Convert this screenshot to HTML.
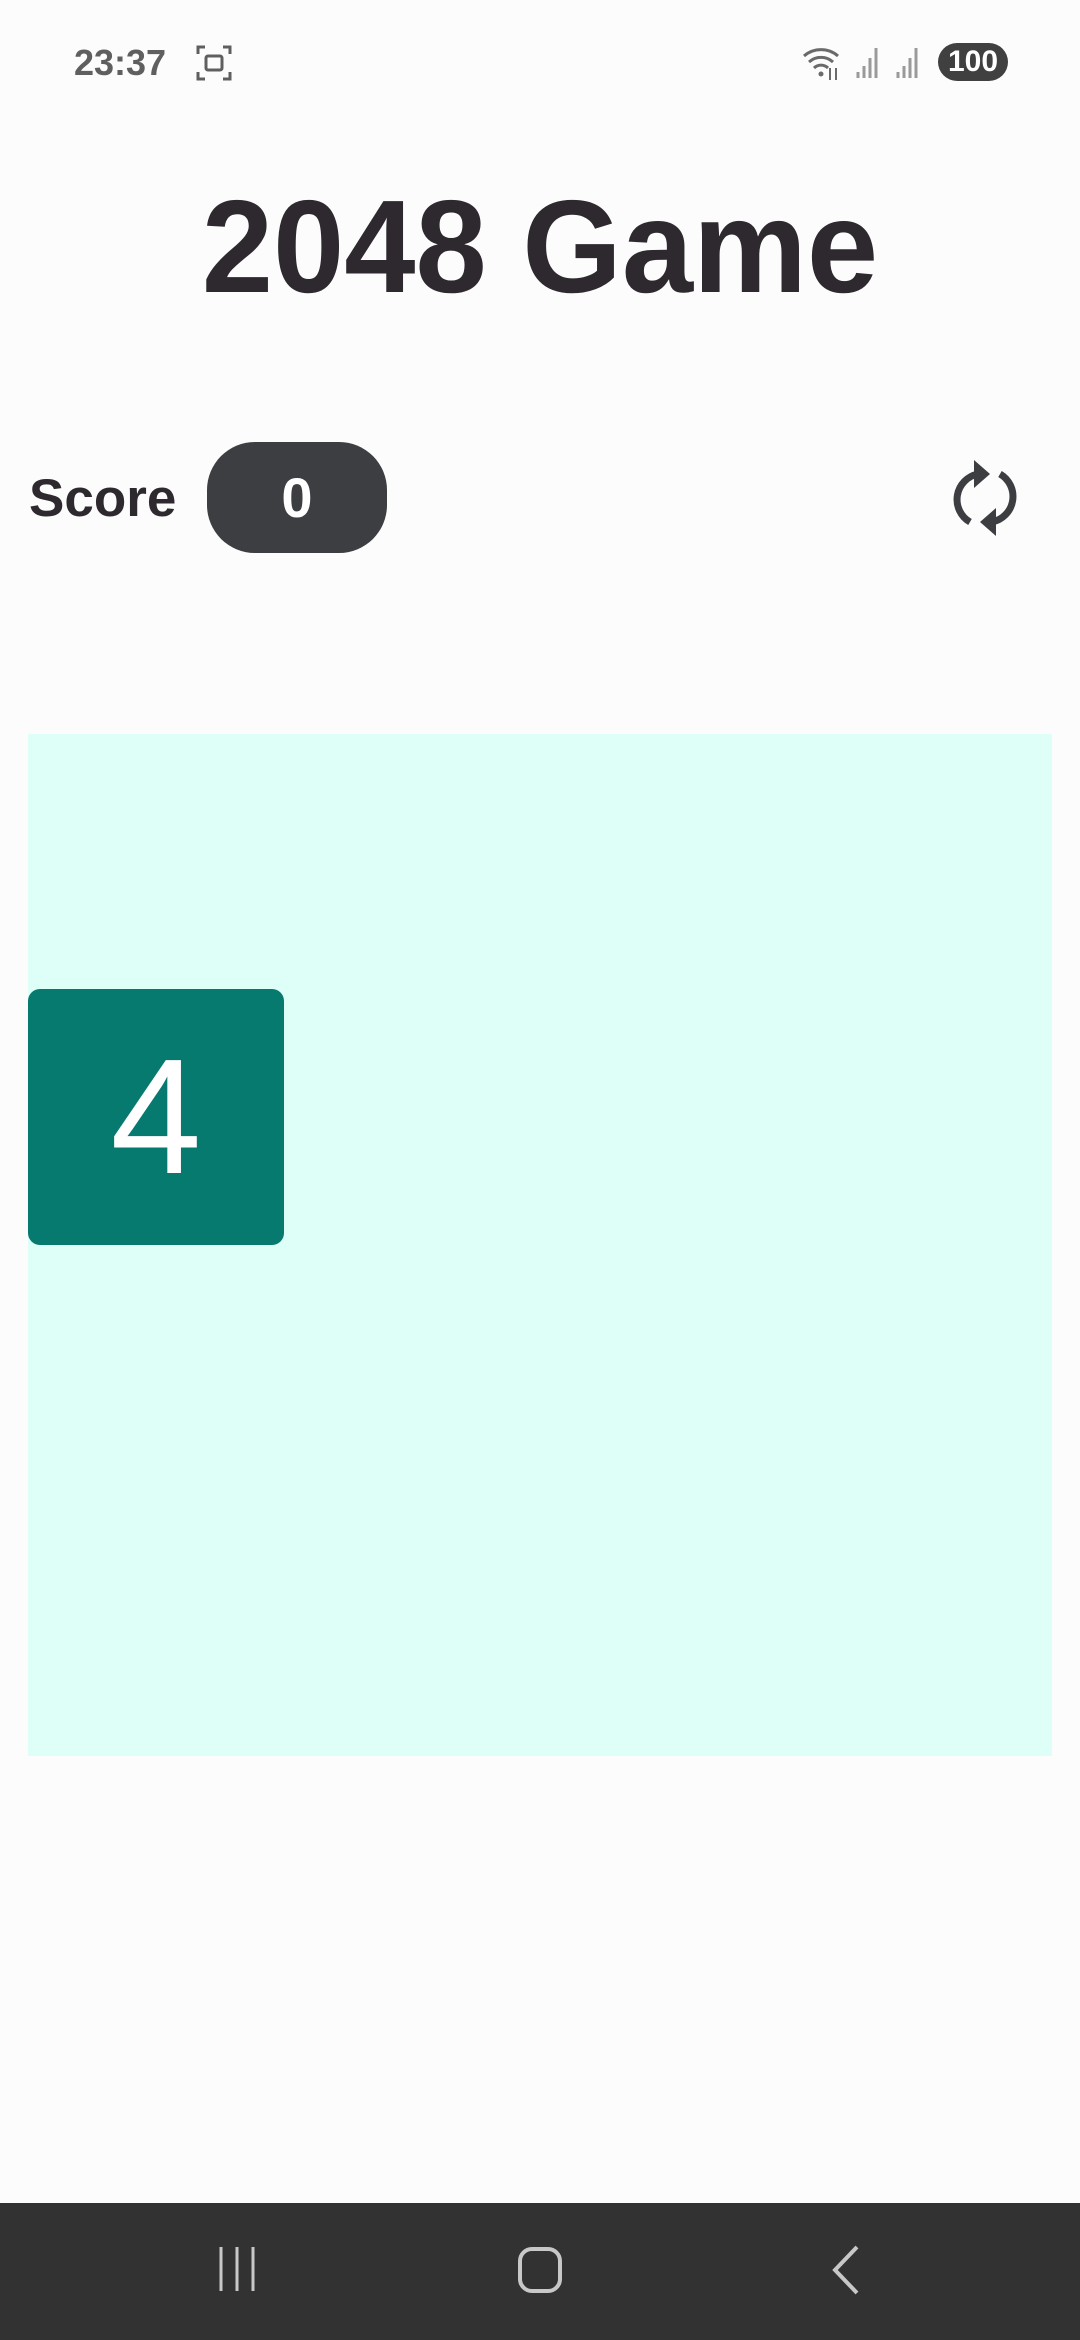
<!DOCTYPE html>
<html><head><meta charset="utf-8"><style>
*{margin:0;padding:0;box-sizing:border-box}
body{width:1080px;height:2340px;background:#fcfcfc;position:relative;overflow:hidden;font-family:"Liberation Sans",sans-serif}
.abs{position:absolute}
</style></head><body>
<div class="abs" style="left:74px;top:42px;font-size:36px;font-weight:bold;color:#5f5f5f">23:37</div>
<svg class="abs" style="left:196px;top:44px" width="36" height="38" viewBox="0 0 36 38"><path d="M2 10V3h7M27 3h7v7M34 28v7h-7M9 35H2v-7" fill="none" stroke="#5f5f5f" stroke-width="3"/><rect x="10" y="12" width="16" height="14" rx="2" fill="none" stroke="#5f5f5f" stroke-width="3"/></svg>
<svg class="abs" style="left:800px;top:40px" width="130" height="44" viewBox="0 0 130 44"><path d="M4 16a26 26 0 0 1 34 0M9 22a18 18 0 0 1 24 0M14 28a10 10 0 0 1 14 0" fill="none" stroke="#6a6a6a" stroke-width="3"/><circle cx="21" cy="34" r="2.5" fill="#6a6a6a"/><path d="M30 28v12M36 40V28" stroke="#6a6a6a" stroke-width="2"/><path d="M58 38v-6M64 38v-12M70 38V18M76 38V8" stroke="#9a9a9a" stroke-width="3"/><path d="M98 38v-6M104 38v-12M110 38V18M116 38V8" stroke="#9a9a9a" stroke-width="3"/></svg>
<div class="abs" style="left:938px;top:43px;width:70px;height:38px;border-radius:19px;background:#404040;color:#fff;font-size:30px;font-weight:bold;text-align:center;line-height:38px">100</div>
<div class="abs" style="left:0;top:172px;width:1080px;text-align:center;font-size:132px;font-weight:bold;color:#2e292e;line-height:150px;transform:scaleX(0.97)">2048 Game</div>
<div class="abs" style="left:29px;top:462px;font-size:53px;font-weight:bold;color:#2e292e;line-height:74px">Score</div>
<div class="abs" style="left:207px;top:442px;width:180px;height:111px;border-radius:48px;background:#3d3e42;color:#fff;font-size:56px;font-weight:bold;text-align:center;line-height:111px">0</div>
<svg class="abs" style="left:950px;top:460px" width="70" height="76" viewBox="0 0 70 76"><path d="M20 62A26 26 0 0 1 28 14" fill="none" stroke="#3d3e42" stroke-width="7"/><path d="M50 14A26 26 0 0 1 42 62" fill="none" stroke="#3d3e42" stroke-width="7"/><path d="M24 0l16 14-16 14z" fill="#3d3e42"/><path d="M46 48l-16 14 16 14z" fill="#3d3e42"/></svg>
<div class="abs" style="left:28px;top:734px;width:1024px;height:1022px;background:#ddfff7"></div>
<div class="abs" style="left:28px;top:989px;width:256px;height:256px;border-radius:12px;background:#077a70;color:#fff;font-size:164px;text-align:center;line-height:256px">4</div>
<div class="abs" style="left:0;top:2203px;width:1080px;height:137px;background:#323232"></div>
<svg class="abs" style="left:215px;top:2245px" width="44" height="48"><path d="M6 2v44M22 2v44M38 2v44" stroke="#c8c8c8" stroke-width="3"/></svg>
<div class="abs" style="left:518px;top:2247px;width:44px;height:46px;border:4px solid #c8c8c8;border-radius:14px"></div>
<svg class="abs" style="left:825px;top:2245px" width="36" height="50"><path d="M32 2L10 25l22 23" fill="none" stroke="#c8c8c8" stroke-width="4"/></svg>
</body></html>
